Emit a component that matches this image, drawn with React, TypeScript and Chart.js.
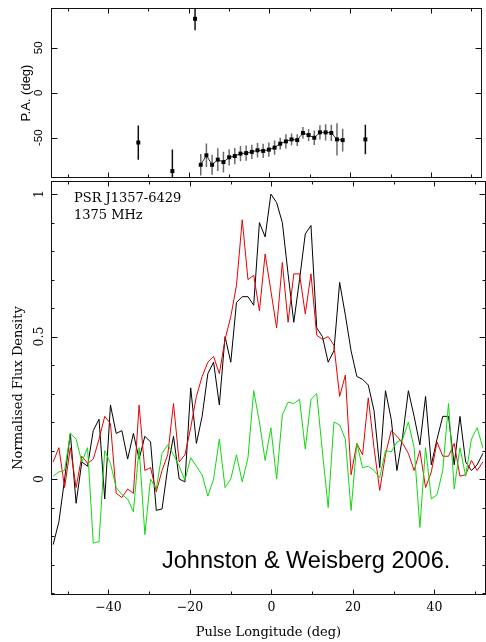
import React, { useEffect, useRef } from "react";
import { Chart, registerables } from "chart.js";

Chart.register(...registerables);

// Pulse longitude of each profile bin (deg)
const longitude = [
  -53.56, -52.15, -50.75, -49.34, -47.93, -46.53, -45.12, -43.72, -42.31, -40.9,
  -39.5, -38.09, -36.69, -35.28, -33.87, -32.47, -31.06, -29.66, -28.25, -26.84,
  -25.44, -24.03, -22.63, -21.22, -19.81, -18.41, -17.0, -15.6, -14.19, -12.78,
  -11.38, -9.97, -8.57, -7.16, -5.75, -4.35, -2.94, -1.54, -0.13, 1.28,
  2.68, 4.09, 5.49, 6.9, 8.31, 9.71, 11.12, 12.52, 13.93, 15.34,
  16.74, 18.15, 19.55, 20.96, 22.37, 23.77, 25.18, 26.58, 27.99, 29.4,
  30.8, 32.21, 33.61, 35.02, 36.43, 37.83, 39.24, 40.64, 42.05, 43.46,
  44.86, 46.27, 47.67, 49.08, 50.49, 51.89,
];

// Total intensity (black)
const totalIntensity = [
  -0.23, -0.15, 0.0, 0.16, -0.085, 0.06, 0.045, 0.17, 0.21, -0.07,
  0.26, 0.16, 0.17, 0.07, 0.16, 0.07, 0.15, 0.13, -0.11, -0.105,
  0.04, 0.15, 0.0, -0.01, 0.32, 0.125, 0.22, 0.37, 0.41, 0.26,
  0.5, 0.41, 0.62, 0.64, 0.64, 0.61, 0.9, 0.85, 1.0, 0.97,
  0.9, 0.72, 0.55, 0.7, 0.86, 0.89, 0.53, 0.5, 0.41, 0.45,
  0.69, 0.575, 0.45, 0.36, 0.35, 0.33, 0.24, 0.04, 0.31, 0.21,
  0.03, 0.15, 0.31, 0.22, 0.12, 0.29, 0.05, 0.14, 0.22, 0.22,
  0.05, 0.22, 0.06, 0.03, 0.05, 0.09,
];

// Linear polarisation (red)
const linearPol = [
  0.06, 0.11, -0.03, 0.11, -0.03, 0.08, 0.055, 0.07, 0.14, 0.22,
  0.195, -0.05, -0.065, -0.035, -0.05, 0.26, 0.03, 0.04, -0.045, 0.03,
  0.085, 0.265, 0.06, 0.085, 0.18, 0.29, 0.36, 0.41, 0.43, 0.37,
  0.49, 0.57, 0.68, 0.91, 0.7, 0.715, 0.59, 0.79, 0.66, 0.53,
  0.76, 0.55, 0.72, 0.72, 0.58, 0.72, 0.505, 0.49, 0.5, 0.47,
  0.29, 0.365, 0.015, 0.125, 0.085, 0.285, 0.11, -0.04, 0.085, 0.17,
  0.15, 0.125, 0.09, 0.03, 0.1, -0.03, 0.025, 0.13, 0.08, 0.08,
  0.125, 0.01, 0.015, 0.065, 0.03, 0.06,
];

// Circular polarisation (green)
const circularPol = [
  0.01, 0.025, 0.03, 0.16, 0.14, 0.06, 0.11, -0.225, -0.22, 0.1,
  0.055, -0.03, -0.055, -0.07, -0.115, 0.11, -0.195, 0.0, -0.035, 0.09,
  0.12, 0.085, 0.045, -0.005, 0.075, 0.045, 0.015, -0.06, 0.0, 0.14,
  -0.03, 0.0, 0.085, -0.01, 0.075, 0.31, 0.2, 0.065, 0.18, 0.0,
  0.225, 0.27, 0.265, 0.28, 0.105, 0.28, 0.3, 0.095, -0.1, 0.2,
  0.19, 0.14, -0.11, 0.125, 0.04, 0.045, 0.03, 0.005, 0.1, 0.095,
  0.13, 0.14, 0.2, 0.11, -0.17, 0.11, -0.07, -0.055, 0.03, 0.265,
  -0.035, 0.11, 0.01, 0.14, 0.18, 0.11,
];

// Position angle sweep across the pulse (deg)
const paSweepLongitude = [
  -17.0, -15.6, -14.19, -12.78, -11.38, -9.97, -8.57, -7.16, -5.75, -4.35,
  -2.94, -1.54, -0.13, 1.28, 2.68, 4.09, 5.49, 6.9, 8.31, 9.71,
  11.12, 12.52, 13.93, 15.34, 16.74, 18.15,
];
const paSweepAngle = [
  -80, -69.5, -80, -74.3, -77, -71.7, -70.3, -67.6, -67, -65.7,
  -63.9, -64.6, -63.2, -61, -56.6, -54, -51.8, -52.6, -44.6, -47,
  -50, -44, -44, -44.6, -51.8, -52.6,
];
const paSweepError = [
  12, 13, 11, 12.7, 11.5, 9, 9, 8.5, 8.5, 8,
  8, 8, 8, 8, 6.5, 8, 6.5, 6.5, 6.5, 6.5,
  8, 8, 9, 9, 18, 12.7,
];

// Isolated position angle points
const paLoneLongitude = [-32.47, -24.03, -18.41, 23.77];
const paLoneAngle = [-55.3, -87, 82.2, -51.8];
const paLoneError = [19, 24, 12.7, 16.4];

// Axis ranges and ticks
const X_MIN = -54.09;
const X_MAX = 52.66;
const PA_MIN = -94.7;
const PA_MAX = 94.2;
const FLUX_MIN = -0.407;
const FLUX_MAX = 1.046;

const xMajorTicks = [-40, -20, 0, 20, 40];
const xMinorTicks = [-50, -30, -10, 10, 30, 50];
const paTicks = [-50, 0, 50];
const paTickLabels = ["-50", "0", "50"];
const fluxMajorTicks = [0, 0.5, 1];
const fluxTickLabels = ["0", "0.5", "1"];
const fluxMinorTicks = [-0.4, -0.3, -0.2, -0.1, 0.1, 0.2, 0.3, 0.4, 0.6, 0.7, 0.8, 0.9];

const SERIF = '"DejaVu Serif", serif';
const SANS = '"Liberation Sans", Arial, sans-serif';

type FrameCfg = {
  xMajor: number[];
  xMinor: number[];
  yMajor: number[];
  yMinor: number[];
  yLabels: string[];
  yFont: string;
  yLabelX: number;
};

// Box frame with inward-pointing ticks on all four sides, plus rotated y labels
function makeFrame(cfg: FrameCfg) {
  return {
    id: "pgFrame",
    afterDatasetsDraw(chart: any) {
      const { ctx, chartArea: a } = chart;
      const xs = chart.scales.x;
      const ys = chart.scales.y;
      const L = a.left + 0.5;
      const R = a.right - 0.5;
      const T = a.top + 0.5;
      const B = a.bottom - 0.5;
      ctx.save();
      ctx.strokeStyle = "#111";
      ctx.lineWidth = 1;
      ctx.strokeRect(L, T, R - L, B - T);
      ctx.beginPath();
      const xt = (vals: number[], len: number) =>
        vals.forEach((v) => {
          const p = Math.round(xs.getPixelForValue(v)) + 0.5;
          if (p <= a.left || p >= a.right) return;
          ctx.moveTo(p, B);
          ctx.lineTo(p, B - len);
          ctx.moveTo(p, T);
          ctx.lineTo(p, T + len);
        });
      const yt = (vals: number[], len: number) =>
        vals.forEach((v) => {
          const p = Math.round(ys.getPixelForValue(v)) + 0.5;
          if (p <= a.top || p >= a.bottom) return;
          ctx.moveTo(L, p);
          ctx.lineTo(L + len, p);
          ctx.moveTo(R, p);
          ctx.lineTo(R - len, p);
        });
      xt(cfg.xMajor, 5);
      xt(cfg.xMinor, 3);
      yt(cfg.yMajor, 6);
      yt(cfg.yMinor, 3);
      ctx.stroke();

      ctx.fillStyle = "#000";
      ctx.font = cfg.yFont;
      ctx.textAlign = "center";
      ctx.textBaseline = "middle";
      cfg.yMajor.forEach((v, i) => {
        ctx.save();
        ctx.translate(cfg.yLabelX, ys.getPixelForValue(v));
        ctx.rotate(-Math.PI / 2);
        ctx.fillText(cfg.yLabels[i], 0, 0);
        ctx.restore();
      });
      ctx.restore();
    },
  };
}

// Vertical error bars on the position angle points
const errorBars = {
  id: "errorBars",
  beforeDatasetsDraw(chart: any) {
    const { ctx, chartArea: a } = chart;
    const xs = chart.scales.x;
    const ys = chart.scales.y;
    ctx.save();
    ctx.beginPath();
    ctx.rect(a.left, a.top, a.right - a.left, a.bottom - a.top);
    ctx.clip();
    chart.data.datasets.forEach((ds: any) => {
      ctx.strokeStyle = ds.errorColor;
      ctx.lineWidth = 1.5;
      ctx.beginPath();
      ds.data.forEach((pt: { x: number; y: number }, i: number) => {
        const e = ds.errors[i];
        const px = xs.getPixelForValue(pt.x);
        ctx.moveTo(px, ys.getPixelForValue(pt.y + e));
        ctx.lineTo(px, ys.getPixelForValue(pt.y - e));
      });
      ctx.stroke();
    });
    ctx.restore();
  },
};

// Source name, frequency and citation written inside the profile panel
const profileText = {
  id: "profileText",
  afterDatasetsDraw(chart: any) {
    const { ctx, chartArea: a } = chart;
    ctx.save();
    ctx.fillStyle = "#000";
    ctx.textAlign = "left";
    ctx.textBaseline = "alphabetic";
    ctx.font = `13px ${SERIF}`;
    ctx.fillText("PSR J1357-6429", a.left + 23, a.top + 20.5);
    ctx.fillText("1375 MHz", a.left + 23, a.top + 38);
    ctx.font = `23.5px ${SANS}`;
    ctx.fillText("Johnston & Weisberg 2006.", a.left + 111, a.top + 387);
    ctx.restore();
  },
};

const points = (xs: number[], ys: number[]) => xs.map((x, i) => ({ x, y: ys[i] }));

export default function App() {
  const paRef = useRef<HTMLCanvasElement>(null);
  const fluxRef = useRef<HTMLCanvasElement>(null);

  useEffect(() => {
    const pa = new Chart(paRef.current as HTMLCanvasElement, {
      type: "scatter",
      data: {
        datasets: [
          {
            data: points(paSweepLongitude, paSweepAngle),
            errors: paSweepError,
            errorColor: "#6a6a6a",
            showLine: true,
            borderColor: "#333",
            borderWidth: 1,
            pointStyle: "rect",
            pointRadius: 2.8,
            pointBackgroundColor: "#000",
            pointBorderWidth: 0,
          } as any,
          {
            data: points(paLoneLongitude, paLoneAngle),
            errors: paLoneError,
            errorColor: "#111",
            showLine: false,
            pointStyle: "rect",
            pointRadius: 2.8,
            pointBackgroundColor: "#000",
            pointBorderWidth: 0,
          } as any,
        ],
      },
      options: {
        animation: false,
        responsive: false,
        devicePixelRatio: 1,
        events: [],
        layout: { padding: { top: 8, right: 0, bottom: 0, left: 0 } },
        plugins: { legend: { display: false }, tooltip: { enabled: false } },
        scales: {
          x: {
            type: "linear",
            min: X_MIN,
            max: X_MAX,
            grid: { display: false, drawTicks: false },
            border: { display: false },
            ticks: { display: false },
            afterFit: (s: any) => {
              s.height = 1;
            },
          },
          y: {
            type: "linear",
            min: PA_MIN,
            max: PA_MAX,
            grid: { display: false, drawTicks: false },
            border: { display: false },
            ticks: { display: false },
            title: {
              display: true,
              text: "P.A. (deg)",
              color: "#000",
              font: { family: SANS, size: 13 },
              padding: { top: 19, bottom: 0 },
            },
            afterFit: (s: any) => {
              s.width = 51;
            },
          },
        },
      },
      plugins: [
        errorBars,
        makeFrame({
          xMajor: xMajorTicks,
          xMinor: xMinorTicks,
          yMajor: paTicks,
          yMinor: [],
          yLabels: paTickLabels,
          yFont: `11.5px ${SANS}`,
          yLabelX: 39,
        }),
      ],
    } as any);

    const line = (values: number[], color: string) => ({
      data: points(longitude, values),
      borderColor: color,
      borderWidth: 1,
      pointRadius: 0,
      tension: 0,
      fill: false,
      clip: 0,
    });

    const flux = new Chart(fluxRef.current as HTMLCanvasElement, {
      type: "line",
      data: {
        datasets: [
          line(circularPol, "#10d810"),
          line(linearPol, "#e80000"),
          line(totalIntensity, "#000"),
        ],
      },
      options: {
        animation: false,
        responsive: false,
        devicePixelRatio: 1,
        events: [],
        layout: { padding: { top: 1, right: 0, bottom: 0, left: 0 } },
        plugins: { legend: { display: false }, tooltip: { enabled: false } },
        scales: {
          x: {
            type: "linear",
            min: X_MIN,
            max: X_MAX,
            grid: { display: false, drawTicks: false },
            border: { display: false },
            afterBuildTicks: (s: any) => {
              s.ticks = xMajorTicks.map((value) => ({ value }));
            },
            ticks: {
              autoSkip: false,
              maxRotation: 0,
              padding: 5,
              color: "#000",
              font: { family: SERIF, size: 12.5 },
              callback: (v: any) => String(v).replace("-", "\u2212"),
            },
            title: {
              display: true,
              text: "Pulse Longitude (deg)",
              color: "#000",
              font: { family: SERIF, size: 13 },
              padding: { top: 0, bottom: 2 },
            },
            afterFit: (s: any) => {
              s.height = 47;
            },
          },
          y: {
            type: "linear",
            min: FLUX_MIN,
            max: FLUX_MAX,
            grid: { display: false, drawTicks: false },
            border: { display: false },
            ticks: { display: false },
            title: {
              display: true,
              text: "Normalised Flux Density",
              color: "#000",
              font: { family: SERIF, size: 13 },
              padding: { top: 11, bottom: 0 },
            },
            afterFit: (s: any) => {
              s.width = 51;
            },
          },
        },
      },
      plugins: [
        makeFrame({
          xMajor: xMajorTicks,
          xMinor: xMinorTicks,
          yMajor: fluxMajorTicks,
          yMinor: fluxMinorTicks,
          yLabels: fluxTickLabels,
          yFont: `12.5px ${SERIF}`,
          yLabelX: 40,
        }),
        profileText,
      ],
    } as any);

    return () => {
      pa.destroy();
      flux.destroy();
    };
  }, []);

  return (
    <div
      style={{
        position: "fixed",
        left: 0,
        top: 0,
        width: 486,
        height: 642,
        background: "#fff",
        overflow: "hidden",
      }}
    >
      <canvas
        ref={paRef}
        width={486}
        height={182}
        style={{ position: "absolute", left: 0, top: 0 }}
      />
      <canvas
        ref={fluxRef}
        width={486}
        height={462}
        style={{ position: "absolute", left: 0, top: 180 }}
      />
    </div>
  );
}
